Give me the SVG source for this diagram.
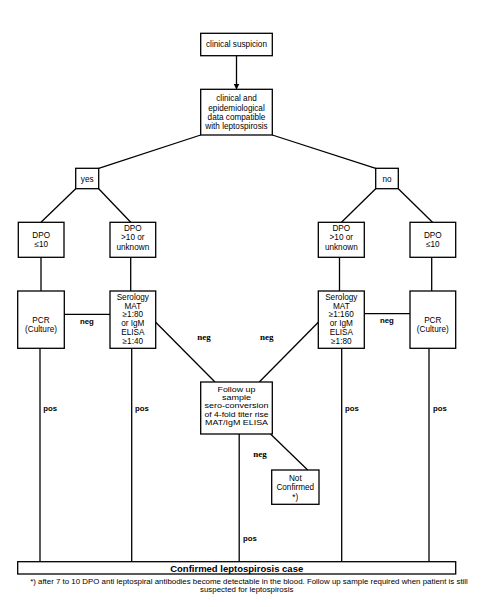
<svg xmlns="http://www.w3.org/2000/svg" width="492" height="607" viewBox="0 0 492 607">
<defs>
<style>
.b{fill:#fff;stroke:#000;stroke-width:1.3}
.t{font-family:"Liberation Sans",Arial,sans-serif;font-size:8.2px;fill:#000;text-anchor:middle}
.f{font-family:"Liberation Sans",Arial,sans-serif;font-size:7.3px;fill:#000;text-anchor:middle}
.l{stroke:#000;stroke-width:1.3;fill:none}
.lb{font-family:"Liberation Sans",Arial,sans-serif;font-size:7.8px;font-weight:bold;fill:#000}
.ls{font-family:"Liberation Serif","Times New Roman",serif;font-size:9px;font-weight:bold;fill:#000;text-anchor:middle}
</style>
<marker id="ah" markerWidth="6" markerHeight="6" refX="5" refY="3" orient="auto" markerUnits="userSpaceOnUse">
<path d="M0,0 L6,3 L0,6 z" fill="#000"/>
</marker>
</defs>
<rect width="492" height="607" fill="#fff"/>
<g id="connectors">
<line class="l" x1="236.5" y1="56" x2="236.5" y2="88.5" marker-end="url(#ah)"/>
<line class="l" x1="200.7" y1="135" x2="98.7" y2="168.3"/>
<line class="l" x1="272.3" y1="135" x2="375.7" y2="168.3"/>
<line class="l" x1="75.7" y1="188.7" x2="41" y2="222.3"/>
<line class="l" x1="98.7" y1="188.7" x2="130.7" y2="222.3"/>
<line class="l" x1="375.7" y1="188.7" x2="341.5" y2="222.3"/>
<line class="l" x1="398.3" y1="188.7" x2="432.5" y2="222.3"/>
<line class="l" x1="41" y1="257.3" x2="41" y2="291"/>
<line class="l" x1="130.7" y1="257.3" x2="130.7" y2="291"/>
<line class="l" x1="339.5" y1="257.3" x2="339.5" y2="291"/>
<line class="l" x1="431.7" y1="257.3" x2="431.7" y2="291"/>
<line class="l" x1="64.3" y1="314.3" x2="110" y2="314.3"/>
<line class="l" x1="364.3" y1="313.7" x2="410" y2="313.7"/>
<line class="l" x1="155.7" y1="322.3" x2="215" y2="382"/>
<line class="l" x1="318.3" y1="322.3" x2="259.3" y2="382"/>
<line class="l" x1="270.5" y1="434" x2="307.7" y2="470"/>
<line class="l" x1="40" y1="348.3" x2="40" y2="561.7"/>
<line class="l" x1="131.7" y1="348.3" x2="131.7" y2="561.7"/>
<line class="l" x1="239.2" y1="434" x2="239.2" y2="561.7"/>
<line class="l" x1="341.7" y1="348.3" x2="341.7" y2="561.7"/>
<line class="l" x1="429" y1="348.3" x2="429" y2="561.7"/>
<text class="lb" x="80" y="323.5">neg</text>
<text class="lb" x="380" y="323">neg</text>
<text class="ls" x="204" y="339.5">neg</text>
<text class="ls" x="266.7" y="339.5">neg</text>
<text class="ls" x="260" y="457">neg</text>
<text class="lb" x="43.3" y="411">pos</text>
<text class="lb" x="135" y="411">pos</text>
<text class="lb" x="345" y="411">pos</text>
<text class="lb" x="433" y="411">pos</text>
<text class="lb" x="243" y="540.5">pos</text>
</g>
<g id="n-suspicion">
<rect class="b" x="200.7" y="33.3" width="71.6" height="22.4"/>
<text class="t" x="236.5" y="47.3">clinical suspicion</text>
</g>
<g id="n-data">
<rect class="b" x="200.7" y="89.3" width="71.6" height="45.7"/>
<text class="t" x="236.5" y="101.3">clinical and</text>
<text class="t" x="236.5" y="110.8">epidemiological</text>
<text class="t" x="236.5" y="120">data compatible</text>
<text class="t" x="236.5" y="129.3">with leptospirosis</text>
</g>
<g id="n-yes">
<rect class="b" x="75.7" y="168.3" width="23" height="20.4"/>
<text class="t" x="87.2" y="182">yes</text>
</g>
<g id="n-no">
<rect class="b" x="375.7" y="168.3" width="22.6" height="20.4"/>
<text class="t" x="387" y="182">no</text>
</g>
<g id="n-dpo-l1">
<rect class="b" x="18.3" y="222.3" width="45.7" height="35"/>
<text class="t" x="41.2" y="238">DPO</text>
<text class="t" x="41.2" y="247">≤10</text>
</g>
<g id="n-dpo-l2">
<rect class="b" x="110" y="222.3" width="45.7" height="35"/>
<text class="t" x="132.8" y="231.3">DPO</text>
<text class="t" x="132.8" y="240.3">&gt;10 or</text>
<text class="t" x="132.8" y="249.7">unknown</text>
</g>
<g id="n-dpo-r2">
<rect class="b" x="318.3" y="222.3" width="46" height="35"/>
<text class="t" x="341.3" y="231.3">DPO</text>
<text class="t" x="341.3" y="240.3">&gt;10 or</text>
<text class="t" x="341.3" y="249.7">unknown</text>
</g>
<g id="n-dpo-r1">
<rect class="b" x="410" y="222.3" width="45.7" height="35"/>
<text class="t" x="432.8" y="238">DPO</text>
<text class="t" x="432.8" y="247">≤10</text>
</g>
<g id="n-pcr-l">
<rect class="b" x="17.7" y="291" width="46.6" height="57.3"/>
<text class="t" x="41" y="322.5">PCR</text>
<text class="t" x="41" y="332">(Culture)</text>
</g>
<g id="n-sero-l">
<rect class="b" x="110" y="291" width="45.7" height="57.3"/>
<text class="t" x="132.8" y="300.3">Serology</text>
<text class="t" x="132.8" y="308.5">MAT</text>
<text class="t" x="132.8" y="317.3">≥1:80</text>
<text class="t" x="132.8" y="326.3">or IgM</text>
<text class="t" x="132.8" y="335.3">ELISA</text>
<text class="t" x="132.8" y="344">≥1:40</text>
</g>
<g id="n-sero-r">
<rect class="b" x="318.3" y="291" width="46" height="57.3"/>
<text class="t" x="341.3" y="300.3">Serology</text>
<text class="t" x="341.3" y="308.5">MAT</text>
<text class="t" x="341.3" y="317.3">≥1:160</text>
<text class="t" x="341.3" y="326.3">or IgM</text>
<text class="t" x="341.3" y="335.3">ELISA</text>
<text class="t" x="341.3" y="344">≥1:80</text>
</g>
<g id="n-pcr-r">
<rect class="b" x="410" y="291" width="45.7" height="57.3"/>
<text class="t" x="432.8" y="322.5">PCR</text>
<text class="t" x="432.8" y="332">(Culture)</text>
</g>
<g id="n-followup">
<rect class="b" x="200.7" y="382" width="71.6" height="52"/>
<text class="f" x="236.5" y="392" textLength="38" lengthAdjust="spacingAndGlyphs">Follow up</text>
<text class="f" x="236.5" y="400.2" textLength="29" lengthAdjust="spacingAndGlyphs">sample</text>
<text class="f" x="236.5" y="408.4" textLength="64" lengthAdjust="spacingAndGlyphs">sero-conversion</text>
<text class="f" x="236.5" y="416.6" textLength="64" lengthAdjust="spacingAndGlyphs">of 4-fold titer rise</text>
<text class="f" x="236.5" y="424.8" textLength="63" lengthAdjust="spacingAndGlyphs">MAT/IgM ELISA</text>
</g>
<g id="n-notconfirmed">
<rect class="b" x="271.7" y="470" width="47.3" height="34.3"/>
<text class="t" x="295.3" y="481.3">Not</text>
<text class="t" x="295.3" y="490.3">Confirmed</text>
<text class="t" x="295.3" y="500">*)</text>
</g>
<g id="n-confirmed">
<rect class="b" x="17.7" y="561.7" width="438" height="12.3"/>
<text class="t" x="236.7" y="571.6" style="font-size:9.5px;font-weight:bold">Confirmed leptospirosis case</text>
</g>
<g id="footnote">
<text class="t" x="249" y="583.5" style="font-size:7.9px">*) after 7 to 10 DPO anti leptospiral antibodies become detectable in the blood. Follow up sample required when patient is still</text>
<text class="t" x="246.7" y="592" style="font-size:7.9px">suspected for leptospirosis</text>
</g>
</svg>
